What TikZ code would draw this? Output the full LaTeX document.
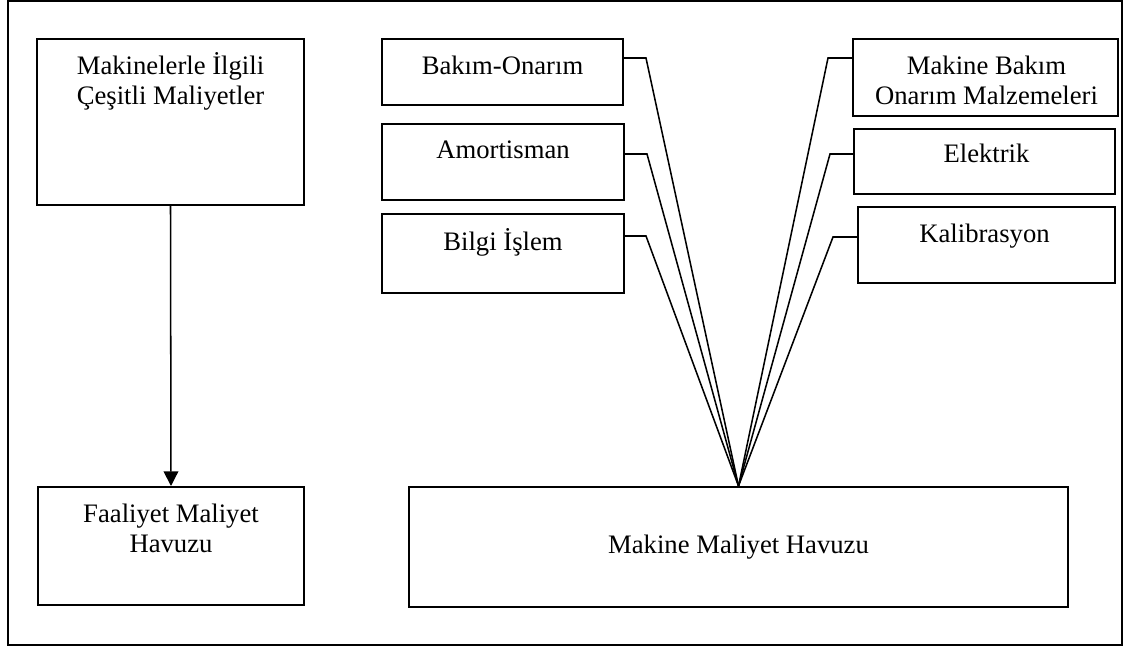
\documentclass[tikz,border=0pt]{standalone}
\usepackage{fontspec}
\setmainfont{Liberation Serif}
\usetikzlibrary{arrows.meta,calc}
\begin{document}
\begin{tikzpicture}[x=0.75pt,y=-0.75pt,
  box/.style={draw, line width=1.5pt, rectangle, inner sep=0pt, anchor=north west},
  txt/.style={anchor=base, inner sep=0pt, align=center,
    font=\fontsize{20}{22.5}\selectfont},
  link/.style={line width=1.15pt},
  flow/.style={line width=1.15pt, -{Triangle[length=11pt,width=11pt]}}]
\useasboundingbox (0,0) rectangle (1129,647);
% outer frame
\draw[line width=1.5pt] (8,1) rectangle (1122,645);

% left column
\node[box, minimum width=267*0.75pt, minimum height=166*0.75pt] (src) at (36,38) {};
\node[txt] (srct) at ($(src.north)+(0,66)$) {Makinelerle İlgili\\Çeşitli Maliyetler};
\node[box, minimum width=266*0.75pt, minimum height=118*0.75pt] (fmh) at (37,486) {};
\node[txt] (fmht) at ($(fmh.north)+(0,66)$) {Faaliyet Maliyet\\Havuzu};
\draw[flow] (src.south) -- (fmh.north);

% cost items on the left
\node[box, minimum width=241*0.75pt, minimum height=66*0.75pt] (bo) at (381,38) {};
\node[txt] (bot) at ($(bo.north)+(0,36)$) {Bakım-Onarım};
\node[box, minimum width=242*0.75pt, minimum height=76*0.75pt] (am) at (381,123) {};
\node[txt] (amt) at ($(am.north)+(0,35)$) {Amortisman};
\node[box, minimum width=242*0.75pt, minimum height=79*0.75pt] (bi) at (381,213) {};
\node[txt] (bit) at ($(bi.north)+(0,37)$) {Bilgi İşlem};

% cost items on the right
\node[box, minimum width=265*0.75pt, minimum height=77*0.75pt] (mb) at (852,38) {};
\node[txt] (mbt) at ($(mb.north)+(1,66)$) {Makine Bakım\\Onarım Malzemeleri};
\node[box, minimum width=261*0.75pt, minimum height=65*0.75pt] (el) at (853,128) {};
\node[txt] (elt) at ($(el.north)+(2,34)$) {Elektrik};
\node[box, minimum width=257*0.75pt, minimum height=76*0.75pt] (ka) at (857,206) {};
\node[txt] (kat) at ($(ka.north)+(-2,36)$) {Kalibrasyon};

% machine cost pool
\node[box, minimum width=659*0.75pt, minimum height=120*0.75pt] (mm) at (408,486) {};
\node[txt] (mmt) at ($(mm.north)+(0,67)$) {Makine Maliyet Havuzu};

% bend points of the connectors
\coordinate (l1) at (646,58);
\coordinate (l2) at (647,154);
\coordinate (l3) at (646,236);
\coordinate (r1) at (828,58);
\coordinate (r2) at (830,154);
\coordinate (r3) at (833,237);

\draw[link] (bo.east |- l1) -- (l1) -- (mm.north);
\draw[link] (am.east |- l2) -- (l2) -- (mm.north);
\draw[link] (bi.east |- l3) -- (l3) -- (mm.north);
\draw[link] (mb.west |- r1) -- (r1) -- (mm.north);
\draw[link] (el.west |- r2) -- (r2) -- (mm.north);
\draw[link] (ka.west |- r3) -- (r3) -- (mm.north);
\end{tikzpicture}
\end{document}
